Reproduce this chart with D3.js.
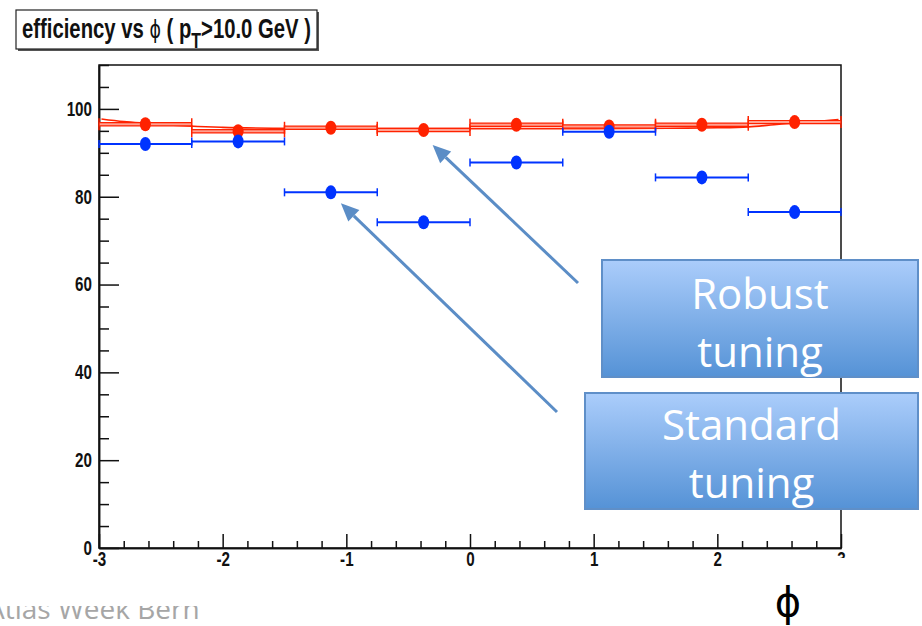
<!DOCTYPE html>
<html>
<head>
<meta charset="utf-8">
<script src="https://cdn.jsdelivr.net/npm/d3@7"></script>
<style>
  html, body { margin: 0; padding: 0; background: #fff; }
  svg { display: block; }
</style>
</head>
<body>
<svg id="chart" width="922" height="626"></svg>
<script>
// phi bins (width 0.75) and efficiencies in percent
const binEdges = [-3, -2.25, -1.5, -0.75, 0, 0.75, 1.5, 2.25, 3];
const binCenters = [-2.625, -1.875, -1.125, -0.375, 0.375, 1.125, 1.875, 2.625];
const robustEff = [96.5, 94.9, 95.7, 95.2, 96.4, 96.0, 96.4, 97.0];
const standardEff = [92.0, 92.6, 81.0, 74.2, 87.8, 94.8, 84.4, 76.5];
// fitted curve through the robust-tuning points
const fitPhi = [-2.98, -2.8, -2.6, -2.4, -2.2, -2.0, -1.6, -1.0, 0, 1.0, 1.6, 2.0, 2.25, 2.5, 2.75, 2.98];
const fitEff = [97.7, 97.1, 96.7, 96.3, 96.0, 95.8, 95.6, 95.5, 95.5, 95.5, 95.6, 95.7, 95.9, 96.5, 97.0, 97.6];
const xMajorTicks = [-3, -2, -1, 0, 1, 2, 3];
const yMajorTicks = [0, 20, 40, 60, 80, 100];

const RED = "#ff2200", BLUE = "#0033ff", ARROW = "#5b8dc6";
const svg = d3.select("#chart");

const x = d3.scaleLinear().domain([-3, 3]).range([99, 841]);
const y = d3.scaleLinear().domain([0, 110]).range([548, 65]);

// frame
svg.append("rect")
  .attr("x", x(-3)).attr("y", y(110))
  .attr("width", x(3) - x(-3)).attr("height", y(0) - y(110))
  .attr("fill", "none").attr("stroke", "#111").attr("stroke-width", 1.5);

// axes: inward ticks, majors and minors
const labelFont = "'Liberation Sans', Arial, Helvetica, sans-serif";
const intFmt = d => String(Math.round(d));
const yMinor = d3.range(0, 110.001, 5).filter(v => v % 20 !== 0);
const xMinor = d3.range(-3, 3.001, 0.2).map(v => +v.toFixed(2)).filter(v => Math.abs(v - Math.round(v)) > 1e-6);

const yAx = svg.append("g").attr("transform", `translate(${x(-3)},0)`)
  .call(d3.axisLeft(y).tickValues(yMajorTicks).tickFormat(intFmt).tickSize(-20).tickPadding(7).tickSizeOuter(0));
svg.append("g").attr("transform", `translate(${x(-3)},0)`)
  .call(d3.axisLeft(y).tickValues(yMinor).tickSize(-10).tickFormat("").tickSizeOuter(0));
const xAx = svg.append("g").attr("transform", `translate(0,${y(0)})`)
  .call(d3.axisBottom(x).tickValues(xMajorTicks).tickFormat(intFmt).tickSize(-14).tickPadding(4).tickSizeOuter(0));
svg.append("g").attr("transform", `translate(0,${y(0)})`)
  .call(d3.axisBottom(x).tickValues(xMinor).tickSize(-7).tickFormat("").tickSizeOuter(0));

svg.selectAll(".domain").attr("stroke", "#111").attr("stroke-width", 1.5);
svg.selectAll(".tick line").attr("stroke", "#111").attr("stroke-width", 1.5);
yAx.selectAll("text")
  .attr("font-family", labelFont).attr("font-weight", "bold").attr("font-size", 20)
  .attr("fill", "#111").attr("x", -7 / 0.76).attr("transform", "scale(0.76,1)");
xAx.selectAll("text")
  .attr("font-family", labelFont).attr("font-weight", "bold").attr("font-size", 20)
  .attr("fill", "#111").attr("transform", "scale(0.76,1)");
// the last x label sits under the page edge of the plot image
svg.append("rect").attr("x", x(3) - 12).attr("y", y(0) + 10).attr("width", 30).attr("height", 20).attr("fill", "#fff");

// fit curve
const fitPts = fitPhi.map((p, i) => [p, fitEff[i]]);
svg.append("path")
  .datum(fitPts)
  .attr("d", d3.line().x(d => x(d[0])).y(d => y(d[1])).curve(d3.curveMonotoneX))
  .attr("fill", "none").attr("stroke", RED).attr("stroke-width", 1.6);

// robust tuning: double horizontal bars, caps and markers
const robust = svg.append("g");
binCenters.forEach((c, i) => {
  const x0 = x(binEdges[i]), x1 = x(binEdges[i + 1]), yy = y(robustEff[i]);
  robust.append("line").attr("x1", x0).attr("x2", x1).attr("y1", yy).attr("y2", yy)
    .attr("stroke", "#ffa090").attr("stroke-width", 3.5);
  [-1.6, 1.6].forEach(o => robust.append("line")
    .attr("x1", x0).attr("x2", x1).attr("y1", yy + o).attr("y2", yy + o)
    .attr("stroke", RED).attr("stroke-width", 1.2));
  [x0, x1].forEach(xe => robust.append("line")
    .attr("x1", xe).attr("x2", xe).attr("y1", yy - 6).attr("y2", yy + 6)
    .attr("stroke", RED).attr("stroke-width", 1.5));
});
robust.selectAll("ellipse").data(binCenters).join("ellipse")
  .attr("cx", d => x(d)).attr("cy", (d, i) => y(robustEff[i]))
  .attr("rx", 5.5).attr("ry", 7).attr("fill", RED);

// standard tuning: horizontal bars with caps and markers
const standard = svg.append("g");
binCenters.forEach((c, i) => {
  const x0 = x(binEdges[i]), x1 = x(binEdges[i + 1]), yy = y(standardEff[i]);
  standard.append("line").attr("x1", x0).attr("x2", x1).attr("y1", yy).attr("y2", yy)
    .attr("stroke", BLUE).attr("stroke-width", 2);
  [x0, x1].forEach(xe => standard.append("line")
    .attr("x1", xe).attr("x2", xe).attr("y1", yy - 4).attr("y2", yy + 4)
    .attr("stroke", BLUE).attr("stroke-width", 1.5));
});
standard.selectAll("ellipse").data(binCenters).join("ellipse")
  .attr("cx", d => x(d)).attr("cy", (d, i) => y(standardEff[i]))
  .attr("rx", 5.5).attr("ry", 7).attr("fill", BLUE);

// title box
const tb = svg.append("g");
tb.append("rect").attr("x", 18).attr("y", 12).attr("width", 301).attr("height", 39)
  .attr("fill", "#555");
tb.append("rect").attr("x", 16).attr("y", 10).attr("width", 301).attr("height", 39)
  .attr("fill", "#fff").attr("stroke", "#222").attr("stroke-width", 1.2);
const title = tb.append("text")
  .attr("transform", "translate(22,38) scale(0.725,1)")
  .attr("font-family", labelFont).attr("font-weight", "bold").attr("font-size", 28).attr("fill", "#111");
title.append("tspan").text("efficiency vs ");
title.append("tspan").attr("font-weight", "normal").attr("font-family", "'DejaVu Sans', sans-serif").attr("font-size", 24).text("ϕ");
title.append("tspan").text(" ( p");
title.append("tspan").attr("dy", 10).attr("font-size", 22).text("T");
title.append("tspan").attr("dy", -10).text(">10.0 GeV )");

// annotation arrows pointing at the data
function arrow(x1, y1, x2, y2) {
  const a = Math.atan2(y2 - y1, x2 - x1), L = 18, W = 8;
  const bx = x2 - L * Math.cos(a), by = y2 - L * Math.sin(a);
  svg.append("line").attr("x1", x1).attr("y1", y1).attr("x2", bx).attr("y2", by)
    .attr("stroke", ARROW).attr("stroke-width", 3);
  svg.append("path")
    .attr("d", `M${x2},${y2}L${bx + W * Math.sin(a)},${by - W * Math.cos(a)}L${bx - W * Math.sin(a)},${by + W * Math.cos(a)}Z`)
    .attr("fill", ARROW);
}
arrow(578, 283, x(binCenters[3]) + 9, y(robustEff[3]) + 15);
arrow(557, 412, x(binCenters[2]) + 10, y(standardEff[2]) + 11);

// callout boxes
const defs = svg.append("defs");
const grad = defs.append("linearGradient").attr("id", "boxGrad").attr("x1", 0).attr("y1", 0).attr("x2", 0).attr("y2", 1);
grad.append("stop").attr("offset", "0%").attr("stop-color", "#abcdfb");
grad.append("stop").attr("offset", "100%").attr("stop-color", "#5592d6");

function callout(bx, by, w, h, lines, baselines) {
  const g = svg.append("g");
  g.append("rect").attr("x", bx).attr("y", by).attr("width", w).attr("height", h)
    .attr("fill", "url(#boxGrad)").attr("stroke", "#5f8fc8").attr("stroke-width", 2);
  lines.forEach((t, i) => g.append("text")
    .attr("x", bx + w / 2).attr("y", baselines[i]).attr("text-anchor", "middle")
    .attr("font-family", "'Open Sans', sans-serif").attr("font-size", 42).attr("fill", "#fff")
    .text(t));
}
callout(602, 260, 316, 117, ["Robust", "tuning"], [309, 367]);
callout(585, 393, 333, 116, ["Standard", "tuning"], [440, 498]);

// footer (partly hidden behind the plot image) and axis symbol
defs.append("clipPath").attr("id", "footClip").append("rect")
  .attr("x", 0).attr("y", 606).attr("width", 400).attr("height", 30);
svg.append("text").attr("clip-path", "url(#footClip)")
  .attr("x", -13).attr("y", 619)
  .attr("font-family", "'Open Sans', sans-serif").attr("font-size", 28).attr("fill", "#a6a6a6")
  .text("Atlas Week Bern");
svg.append("text").attr("x", 788).attr("y", 616).attr("text-anchor", "middle")
  .attr("font-family", "'DejaVu Sans', sans-serif").attr("font-size", 40).attr("fill", "#000")
  .text("ϕ");
</script>
</body>
</html>
